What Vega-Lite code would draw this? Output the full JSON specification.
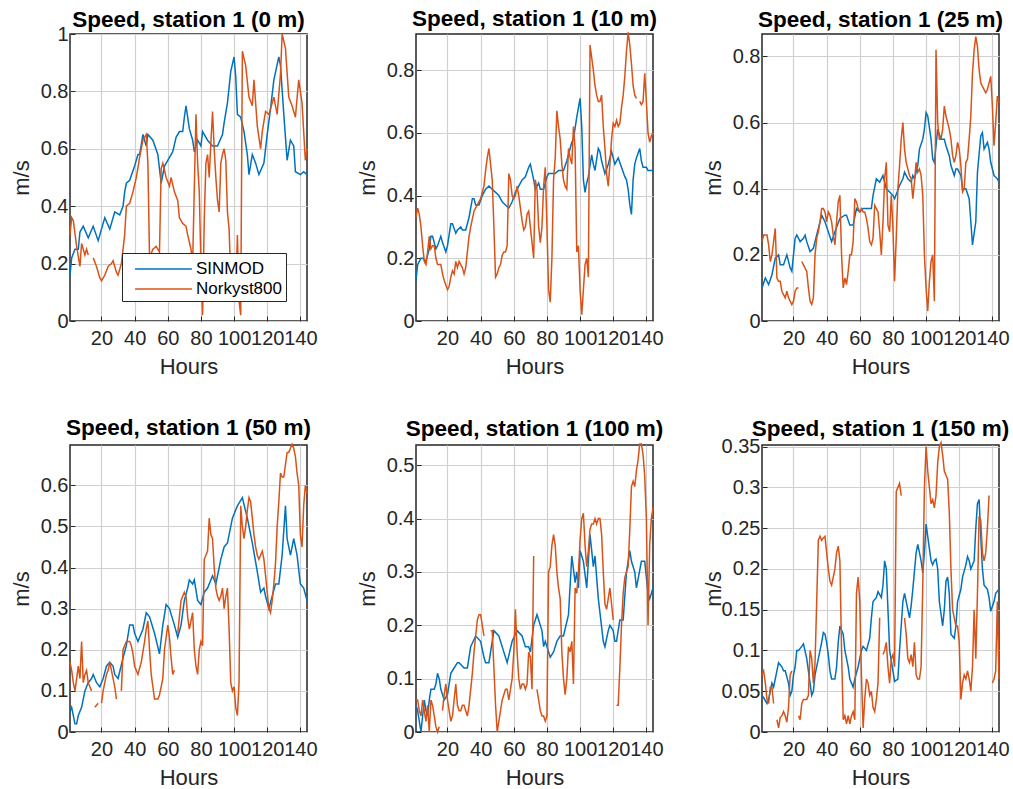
{
"$schema": "https://vega.github.io/schema/vega-lite/v6.json",
"background": "white",
"padding": {"left": 9, "top": 7, "right": 5, "bottom": 5},
"config": {
 "font": "Liberation Sans",
 "view": {"stroke": "#262626", "strokeWidth": 1.5},
 "axis": {"domain": false, "grid": true, "gridColor": "#d0d0d0", "gridWidth": 1.2, "tickColor": "#262626", "tickSize": -5, "tickWidth": 1, "labelFontSize": 20, "labelColor": "#262626", "labelPadding": 12, "titleFontSize": 22, "titleColor": "#262626", "titleFontWeight": "normal", "labelOverlap": false, "labelFlush": false, "labelBound": false},
 "axisX": {"titleY": 45, "titleBaseline": "middle"},
 "axisY": {"titleX": -49, "titleY": 143.5, "titleBaseline": "middle", "titleAngle": -90, "titleAlign": "center", "labelPadding": 7},
 "title": {"fontSize": 22.5, "fontWeight": "bold", "color": "#000000", "baseline": "alphabetic", "frame": "group"},
 "line": {"strokeWidth": 1.5, "clip": true, "invalid": "break-paths-show-domains"}
},
"datasets": {
"p1s": [{"h":1,"v":0.16},{"h":2,"v":0.22},{"h":4,"v":0.25},{"h":6,"v":0.25},{"h":7,"v":0.31},{"h":9,"v":0.33},{"h":12,"v":0.29},{"h":15,"v":0.33},{"h":18,"v":0.28},{"h":20,"v":0.32},{"h":22,"v":0.36},{"h":25,"v":0.32},{"h":28,"v":0.38},{"h":31,"v":0.37},{"h":33,"v":0.40},{"h":34,"v":0.45},{"h":35,"v":0.48},{"h":37,"v":0.49},{"h":40,"v":0.54},{"h":42,"v":0.58},{"h":43,"v":0.58},{"h":45,"v":0.65},{"h":47,"v":0.61},{"h":48,"v":0.65},{"h":51,"v":0.63},{"h":54,"v":0.58},{"h":56,"v":0.48},{"h":58,"v":0.54},{"h":60,"v":0.56},{"h":63,"v":0.59},{"h":65,"v":0.64},{"h":67,"v":0.66},{"h":69,"v":0.66},{"h":70,"v":0.71},{"h":71,"v":0.75},{"h":73,"v":0.67},{"h":75,"v":0.63},{"h":76,"v":0.59},{"h":78,"v":0.63},{"h":80,"v":0.61},{"h":81,"v":0.66},{"h":84,"v":0.63},{"h":87,"v":0.61},{"h":90,"v":0.61},{"h":93,"v":0.65},{"h":94,"v":0.69},{"h":96,"v":0.76},{"h":98,"v":0.87},{"h":100,"v":0.92},{"h":101,"v":0.85},{"h":102,"v":0.72},{"h":104,"v":0.71},{"h":106,"v":0.66},{"h":108,"v":0.58},{"h":109,"v":0.51},{"h":111,"v":0.58},{"h":113,"v":0.55},{"h":115,"v":0.51},{"h":118,"v":0.55},{"h":120,"v":0.65},{"h":122,"v":0.74},{"h":124,"v":0.84},{"h":127,"v":0.92},{"h":128,"v":0.89},{"h":130,"v":0.72},{"h":132,"v":0.56},{"h":134,"v":0.63},{"h":136,"v":0.61},{"h":137,"v":0.52},{"h":140,"v":0.51},{"h":142,"v":0.52},{"h":144,"v":0.51}],
"p1n": [{"h":1,"v":0.30},{"h":2,"v":0.36},{"h":3,"v":0.35},{"h":5,"v":0.26},{"h":7,"v":0.19},{"h":8,"v":0.27},{"h":10,"v":0.23},{"h":11,"v":0.25},{"h":12,"v":0.23},{"h":13,"v":null},{"h":15,"v":0.22},{"h":17,"v":0.19},{"h":19,"v":0.15},{"h":20,"v":0.14},{"h":22,"v":0.16},{"h":24,"v":0.19},{"h":26,"v":0.20},{"h":27,"v":0.21},{"h":29,"v":0.17},{"h":30,"v":0.16},{"h":32,"v":0.20},{"h":34,"v":0.30},{"h":35,"v":0.40},{"h":37,"v":0.41},{"h":39,"v":0.45},{"h":41,"v":0.50},{"h":43,"v":0.57},{"h":45,"v":0.63},{"h":47,"v":0.65},{"h":48,"v":0.55},{"h":49,"v":0.22},{"h":51,"v":0.25},{"h":53,"v":0.26},{"h":55,"v":0.24},{"h":56,"v":0.53},{"h":57,"v":0.55},{"h":59,"v":0.50},{"h":61,"v":0.47},{"h":62,"v":0.50},{"h":64,"v":0.45},{"h":66,"v":0.42},{"h":67,"v":0.36},{"h":69,"v":0.34},{"h":71,"v":0.33},{"h":72,"v":0.30},{"h":74,"v":0.25},{"h":75,"v":0.20},{"h":77,"v":0.72},{"h":78,"v":0.55},{"h":79,"v":0.45},{"h":80,"v":0.20},{"h":81,"v":0.02},{"h":82,"v":0.35},{"h":83,"v":0.55},{"h":84,"v":0.58},{"h":85,"v":0.50},{"h":86,"v":0.62},{"h":87,"v":0.73},{"h":88,"v":0.60},{"h":89,"v":0.50},{"h":90,"v":0.42},{"h":91,"v":0.38},{"h":92,"v":0.55},{"h":93,"v":0.58},{"h":94,"v":0.60},{"h":95,"v":0.56},{"h":96,"v":0.38},{"h":97,"v":0.32},{"h":98,"v":0.15},{"h":99,"v":0.08},{"h":100,"v":0.22},{"h":101,"v":0.10},{"h":102,"v":0.30},{"h":103,"v":0.07},{"h":104,"v":0.02},{"h":105,"v":0.94},{"h":107,"v":0.89},{"h":109,"v":0.78},{"h":111,"v":0.75},{"h":112,"v":0.84},{"h":114,"v":0.68},{"h":116,"v":0.60},{"h":117,"v":0.66},{"h":119,"v":0.73},{"h":121,"v":0.72},{"h":124,"v":0.78},{"h":126,"v":0.72},{"h":128,"v":0.86},{"h":129,"v":1.0},{"h":131,"v":0.95},{"h":133,"v":0.78},{"h":135,"v":0.75},{"h":137,"v":0.71},{"h":139,"v":0.84},{"h":141,"v":0.76},{"h":143,"v":0.56},{"h":144,"v":0.60}],
"p2s": [{"h":1,"v":0.13},{"h":2,"v":0.18},{"h":4,"v":0.20},{"h":5,"v":0.20},{"h":7,"v":0.19},{"h":9,"v":0.23},{"h":10,"v":0.27},{"h":11,"v":0.27},{"h":13,"v":0.23},{"h":14,"v":0.24},{"h":16,"v":0.27},{"h":17,"v":0.25},{"h":19,"v":0.22},{"h":20,"v":0.24},{"h":22,"v":0.31},{"h":23,"v":0.31},{"h":25,"v":0.28},{"h":26,"v":0.29},{"h":28,"v":0.30},{"h":29,"v":0.29},{"h":31,"v":0.29},{"h":33,"v":0.33},{"h":35,"v":0.39},{"h":36,"v":0.39},{"h":37,"v":0.37},{"h":39,"v":0.37},{"h":41,"v":0.40},{"h":43,"v":0.42},{"h":45,"v":0.43},{"h":47,"v":0.42},{"h":49,"v":0.41},{"h":51,"v":0.40},{"h":53,"v":0.38},{"h":55,"v":0.37},{"h":57,"v":0.36},{"h":59,"v":0.38},{"h":61,"v":0.41},{"h":63,"v":0.43},{"h":65,"v":0.45},{"h":67,"v":0.46},{"h":69,"v":0.49},{"h":70,"v":0.50},{"h":72,"v":0.45},{"h":73,"v":0.42},{"h":75,"v":0.44},{"h":76,"v":0.42},{"h":78,"v":0.42},{"h":80,"v":0.46},{"h":81,"v":0.47},{"h":83,"v":0.47},{"h":85,"v":0.47},{"h":87,"v":0.48},{"h":89,"v":0.48},{"h":90,"v":0.48},{"h":92,"v":0.51},{"h":93,"v":0.53},{"h":95,"v":0.57},{"h":96,"v":0.58},{"h":98,"v":0.65},{"h":100,"v":0.71},{"h":101,"v":0.62},{"h":102,"v":0.45},{"h":103,"v":0.41},{"h":104,"v":0.44},{"h":105,"v":0.46},{"h":107,"v":0.53},{"h":108,"v":0.50},{"h":109,"v":0.48},{"h":111,"v":0.55},{"h":112,"v":0.54},{"h":113,"v":0.51},{"h":115,"v":0.47},{"h":117,"v":0.50},{"h":119,"v":0.54},{"h":120,"v":0.52},{"h":121,"v":0.50},{"h":123,"v":0.52},{"h":125,"v":0.49},{"h":127,"v":0.46},{"h":128,"v":0.45},{"h":129,"v":0.42},{"h":130,"v":0.37},{"h":131,"v":0.34},{"h":132,"v":0.45},{"h":133,"v":0.50},{"h":134,"v":0.52},{"h":136,"v":0.55},{"h":137,"v":0.51},{"h":138,"v":0.49},{"h":140,"v":0.49},{"h":141,"v":0.48},{"h":143,"v":0.48},{"h":144,"v":0.48}],
"p2n": [{"h":1,"v":0.33},{"h":2,"v":0.36},{"h":3,"v":0.34},{"h":4,"v":0.30},{"h":5,"v":0.24},{"h":6,"v":0.19},{"h":7,"v":0.18},{"h":8,"v":0.22},{"h":9,"v":0.27},{"h":10,"v":0.23},{"h":11,"v":0.24},{"h":12,"v":0.24},{"h":13,"v":0.20},{"h":14,"v":0.18},{"h":16,"v":0.18},{"h":17,"v":0.15},{"h":18,"v":0.13},{"h":20,"v":0.10},{"h":21,"v":0.11},{"h":22,"v":0.14},{"h":23,"v":0.16},{"h":24,"v":0.15},{"h":25,"v":0.19},{"h":26,"v":0.17},{"h":27,"v":0.19},{"h":28,"v":0.18},{"h":29,"v":0.17},{"h":30,"v":0.15},{"h":31,"v":0.17},{"h":32,"v":0.22},{"h":33,"v":0.27},{"h":34,"v":0.30},{"h":36,"v":0.35},{"h":38,"v":0.37},{"h":40,"v":0.39},{"h":42,"v":0.43},{"h":43,"v":0.48},{"h":44,"v":0.52},{"h":45,"v":0.55},{"h":46,"v":0.50},{"h":47,"v":0.45},{"h":48,"v":0.30},{"h":49,"v":0.14},{"h":50,"v":0.15},{"h":51,"v":0.17},{"h":52,"v":0.18},{"h":53,"v":0.21},{"h":54,"v":0.22},{"h":55,"v":0.22},{"h":56,"v":0.24},{"h":57,"v":0.47},{"h":58,"v":0.45},{"h":59,"v":0.40},{"h":60,"v":0.39},{"h":61,"v":0.40},{"h":62,"v":0.43},{"h":63,"v":0.40},{"h":64,"v":0.36},{"h":65,"v":0.32},{"h":66,"v":0.29},{"h":67,"v":0.30},{"h":68,"v":0.34},{"h":69,"v":0.35},{"h":70,"v":0.30},{"h":71,"v":0.25},{"h":72,"v":0.20},{"h":73,"v":0.45},{"h":74,"v":0.42},{"h":75,"v":0.30},{"h":76,"v":0.25},{"h":77,"v":0.30},{"h":78,"v":0.43},{"h":79,"v":0.49},{"h":80,"v":0.30},{"h":81,"v":0.10},{"h":82,"v":0.06},{"h":83,"v":0.20},{"h":84,"v":0.45},{"h":85,"v":0.52},{"h":86,"v":0.67},{"h":87,"v":0.62},{"h":88,"v":0.58},{"h":89,"v":0.50},{"h":90,"v":0.45},{"h":91,"v":0.43},{"h":92,"v":0.42},{"h":93,"v":0.55},{"h":94,"v":0.52},{"h":95,"v":0.50},{"h":96,"v":0.62},{"h":97,"v":0.55},{"h":98,"v":0.22},{"h":99,"v":0.24},{"h":100,"v":0.10},{"h":101,"v":0.02},{"h":102,"v":0.10},{"h":103,"v":0.18},{"h":104,"v":0.20},{"h":105,"v":0.14},{"h":106,"v":0.88},{"h":107,"v":0.84},{"h":108,"v":0.80},{"h":109,"v":0.75},{"h":110,"v":0.72},{"h":111,"v":0.70},{"h":112,"v":0.70},{"h":113,"v":0.72},{"h":114,"v":0.62},{"h":115,"v":0.55},{"h":116,"v":0.47},{"h":117,"v":0.43},{"h":118,"v":0.50},{"h":119,"v":0.58},{"h":120,"v":0.63},{"h":121,"v":0.62},{"h":122,"v":0.64},{"h":123,"v":0.62},{"h":124,"v":0.63},{"h":125,"v":0.68},{"h":126,"v":0.72},{"h":127,"v":0.78},{"h":128,"v":0.86},{"h":129,"v":0.92},{"h":130,"v":0.88},{"h":131,"v":0.82},{"h":132,"v":0.75},{"h":133,"v":0.72},{"h":134,"v":0.71},{"h":135,"v":null},{"h":136,"v":0.70},{"h":137,"v":0.69},{"h":138,"v":0.70},{"h":139,"v":0.79},{"h":140,"v":0.70},{"h":141,"v":0.60},{"h":142,"v":0.57},{"h":143,"v":0.59},{"h":144,"v":0.60}],
"p3s": [{"h":1,"v":0.10},{"h":3,"v":0.13},{"h":5,"v":0.11},{"h":7,"v":0.14},{"h":9,"v":0.19},{"h":11,"v":0.20},{"h":12,"v":0.17},{"h":14,"v":0.17},{"h":16,"v":0.20},{"h":18,"v":0.16},{"h":19,"v":0.15},{"h":21,"v":0.25},{"h":22,"v":0.26},{"h":24,"v":0.24},{"h":26,"v":0.25},{"h":27,"v":0.26},{"h":28,"v":0.24},{"h":30,"v":0.21},{"h":32,"v":0.22},{"h":34,"v":0.26},{"h":35,"v":0.28},{"h":37,"v":0.32},{"h":39,"v":0.30},{"h":41,"v":0.27},{"h":43,"v":0.24},{"h":45,"v":0.27},{"h":48,"v":0.31},{"h":51,"v":0.32},{"h":52,"v":0.32},{"h":54,"v":0.29},{"h":56,"v":0.29},{"h":58,"v":0.34},{"h":60,"v":0.33},{"h":62,"v":0.34},{"h":65,"v":0.34},{"h":67,"v":0.34},{"h":68,"v":0.38},{"h":70,"v":0.43},{"h":72,"v":0.42},{"h":74,"v":0.44},{"h":76,"v":0.40},{"h":78,"v":0.39},{"h":80,"v":0.38},{"h":81,"v":0.37},{"h":84,"v":0.41},{"h":86,"v":0.43},{"h":87,"v":0.45},{"h":89,"v":0.43},{"h":91,"v":0.42},{"h":92,"v":0.44},{"h":93,"v":0.43},{"h":95,"v":0.47},{"h":96,"v":0.52},{"h":98,"v":0.55},{"h":99,"v":0.58},{"h":100,"v":0.63},{"h":101,"v":0.62},{"h":103,"v":0.55},{"h":104,"v":0.49},{"h":105,"v":0.48},{"h":107,"v":0.58},{"h":109,"v":0.55},{"h":111,"v":0.55},{"h":112,"v":0.53},{"h":114,"v":0.50},{"h":115,"v":0.47},{"h":117,"v":0.44},{"h":118,"v":0.46},{"h":119,"v":0.46},{"h":121,"v":0.44},{"h":122,"v":0.40},{"h":124,"v":0.40},{"h":126,"v":0.37},{"h":127,"v":0.30},{"h":128,"v":0.23},{"h":130,"v":0.30},{"h":131,"v":0.45},{"h":133,"v":0.56},{"h":134,"v":0.57},{"h":135,"v":0.52},{"h":137,"v":0.54},{"h":138,"v":0.52},{"h":139,"v":0.48},{"h":141,"v":0.44},{"h":143,"v":0.43},{"h":144,"v":0.42}],
"p3n": [{"h":1,"v":0.24},{"h":2,"v":0.26},{"h":3,"v":0.26},{"h":4,"v":0.26},{"h":5,"v":0.23},{"h":6,"v":0.18},{"h":7,"v":0.20},{"h":8,"v":0.24},{"h":9,"v":0.28},{"h":10,"v":0.13},{"h":11,"v":0.12},{"h":12,"v":0.12},{"h":13,"v":0.09},{"h":14,"v":0.08},{"h":15,"v":0.07},{"h":16,"v":0.09},{"h":17,"v":0.07},{"h":18,"v":0.06},{"h":19,"v":0.05},{"h":20,"v":0.06},{"h":21,"v":0.09},{"h":22,"v":0.10},{"h":23,"v":0.10},{"h":24,"v":null},{"h":25,"v":0.18},{"h":26,"v":0.17},{"h":27,"v":0.16},{"h":28,"v":0.15},{"h":29,"v":0.10},{"h":30,"v":0.06},{"h":31,"v":0.05},{"h":32,"v":0.07},{"h":33,"v":0.20},{"h":34,"v":0.25},{"h":35,"v":0.27},{"h":36,"v":0.30},{"h":37,"v":0.34},{"h":38,"v":0.34},{"h":39,"v":0.33},{"h":40,"v":0.30},{"h":41,"v":0.33},{"h":42,"v":0.32},{"h":43,"v":0.30},{"h":44,"v":0.26},{"h":45,"v":0.23},{"h":46,"v":0.30},{"h":47,"v":0.36},{"h":48,"v":0.38},{"h":49,"v":0.20},{"h":50,"v":0.10},{"h":51,"v":0.13},{"h":52,"v":0.11},{"h":53,"v":0.15},{"h":54,"v":0.20},{"h":55,"v":0.20},{"h":56,"v":0.24},{"h":57,"v":0.37},{"h":58,"v":0.36},{"h":59,"v":0.34},{"h":60,"v":0.33},{"h":61,"v":0.34},{"h":62,"v":0.33},{"h":63,"v":0.33},{"h":64,"v":0.31},{"h":65,"v":0.28},{"h":66,"v":0.24},{"h":67,"v":0.23},{"h":68,"v":0.25},{"h":69,"v":0.35},{"h":70,"v":0.34},{"h":71,"v":0.33},{"h":72,"v":0.27},{"h":73,"v":0.20},{"h":74,"v":0.30},{"h":75,"v":0.43},{"h":76,"v":0.48},{"h":77,"v":0.29},{"h":78,"v":0.27},{"h":79,"v":0.38},{"h":80,"v":0.28},{"h":81,"v":0.12},{"h":82,"v":0.25},{"h":83,"v":0.40},{"h":84,"v":0.47},{"h":85,"v":0.55},{"h":86,"v":0.60},{"h":87,"v":0.52},{"h":88,"v":0.48},{"h":89,"v":0.46},{"h":90,"v":0.44},{"h":91,"v":0.43},{"h":92,"v":0.37},{"h":93,"v":0.42},{"h":94,"v":0.48},{"h":95,"v":0.45},{"h":96,"v":0.46},{"h":97,"v":0.44},{"h":98,"v":0.38},{"h":99,"v":0.20},{"h":100,"v":0.10},{"h":101,"v":0.03},{"h":102,"v":0.12},{"h":103,"v":0.18},{"h":104,"v":0.20},{"h":105,"v":0.06},{"h":106,"v":0.82},{"h":107,"v":0.60},{"h":108,"v":0.55},{"h":109,"v":0.55},{"h":110,"v":0.58},{"h":111,"v":0.65},{"h":112,"v":0.62},{"h":113,"v":0.60},{"h":114,"v":0.58},{"h":115,"v":0.55},{"h":116,"v":0.50},{"h":117,"v":0.48},{"h":118,"v":0.50},{"h":119,"v":0.54},{"h":120,"v":0.52},{"h":121,"v":0.47},{"h":122,"v":0.39},{"h":123,"v":0.40},{"h":124,"v":0.48},{"h":125,"v":0.49},{"h":126,"v":0.55},{"h":127,"v":0.62},{"h":128,"v":0.75},{"h":129,"v":0.82},{"h":130,"v":0.86},{"h":131,"v":0.83},{"h":132,"v":0.76},{"h":133,"v":0.72},{"h":134,"v":0.71},{"h":135,"v":0.70},{"h":136,"v":0.69},{"h":137,"v":0.70},{"h":138,"v":0.72},{"h":139,"v":0.74},{"h":140,"v":0.65},{"h":141,"v":0.53},{"h":142,"v":0.60},{"h":143,"v":0.68},{"h":144,"v":0.66}],
"p4s": [{"h":1,"v":0.05},{"h":2,"v":0.06},{"h":3,"v":0.04},{"h":4,"v":0.02},{"h":5,"v":0.02},{"h":6,"v":0.04},{"h":8,"v":0.06},{"h":10,"v":0.10},{"h":11,"v":0.11},{"h":12,"v":0.12},{"h":14,"v":0.13},{"h":15,"v":0.14},{"h":17,"v":0.12},{"h":19,"v":0.11},{"h":21,"v":0.13},{"h":23,"v":0.16},{"h":25,"v":0.17},{"h":27,"v":0.16},{"h":28,"v":0.14},{"h":30,"v":0.13},{"h":33,"v":0.18},{"h":35,"v":0.21},{"h":37,"v":0.26},{"h":39,"v":0.26},{"h":40,"v":0.24},{"h":42,"v":0.22},{"h":45,"v":0.25},{"h":47,"v":0.29},{"h":49,"v":0.28},{"h":52,"v":0.24},{"h":55,"v":0.19},{"h":57,"v":0.26},{"h":59,"v":0.31},{"h":61,"v":0.30},{"h":64,"v":0.26},{"h":66,"v":0.23},{"h":68,"v":0.26},{"h":70,"v":0.32},{"h":72,"v":0.35},{"h":73,"v":0.37},{"h":75,"v":0.36},{"h":76,"v":0.37},{"h":78,"v":0.32},{"h":80,"v":0.31},{"h":82,"v":0.34},{"h":84,"v":0.35},{"h":87,"v":0.38},{"h":89,"v":0.36},{"h":91,"v":0.40},{"h":92,"v":0.42},{"h":94,"v":0.45},{"h":96,"v":0.46},{"h":99,"v":0.52},{"h":102,"v":0.55},{"h":105,"v":0.57},{"h":108,"v":0.52},{"h":111,"v":0.46},{"h":114,"v":0.39},{"h":116,"v":0.34},{"h":118,"v":0.35},{"h":119,"v":0.33},{"h":121,"v":0.30},{"h":123,"v":0.33},{"h":125,"v":0.36},{"h":127,"v":0.36},{"h":129,"v":0.43},{"h":131,"v":0.55},{"h":132,"v":0.47},{"h":134,"v":0.43},{"h":136,"v":0.47},{"h":138,"v":0.43},{"h":140,"v":0.36},{"h":142,"v":0.35},{"h":144,"v":0.32}],
"p4n": [{"h":1,"v":0.17},{"h":2,"v":0.15},{"h":3,"v":0.12},{"h":4,"v":0.10},{"h":5,"v":0.13},{"h":6,"v":0.16},{"h":7,"v":0.13},{"h":8,"v":0.22},{"h":9,"v":0.12},{"h":10,"v":0.14},{"h":11,"v":0.15},{"h":12,"v":0.12},{"h":13,"v":0.11},{"h":14,"v":0.10},{"h":15,"v":null},{"h":16,"v":0.06},{"h":17,"v":0.065},{"h":18,"v":0.07},{"h":19,"v":null},{"h":20,"v":0.07},{"h":21,"v":0.10},{"h":22,"v":0.12},{"h":23,"v":0.14},{"h":24,"v":0.15},{"h":25,"v":0.17},{"h":26,"v":0.15},{"h":27,"v":0.13},{"h":28,"v":0.11},{"h":29,"v":0.08},{"h":30,"v":null},{"h":32,"v":0.10},{"h":33,"v":0.20},{"h":35,"v":0.22},{"h":37,"v":0.22},{"h":38,"v":0.21},{"h":39,"v":0.19},{"h":40,"v":0.16},{"h":42,"v":0.14},{"h":44,"v":0.17},{"h":46,"v":0.22},{"h":47,"v":0.25},{"h":48,"v":0.27},{"h":49,"v":0.20},{"h":50,"v":0.14},{"h":52,"v":0.08},{"h":54,"v":0.08},{"h":55,"v":0.09},{"h":57,"v":0.13},{"h":58,"v":0.20},{"h":60,"v":0.26},{"h":61,"v":0.23},{"h":62,"v":0.18},{"h":63,"v":0.14},{"h":64,"v":0.15},{"h":65,"v":null},{"h":66,"v":0.24},{"h":67,"v":0.28},{"h":68,"v":0.32},{"h":70,"v":0.34},{"h":71,"v":0.33},{"h":72,"v":0.28},{"h":73,"v":0.25},{"h":75,"v":0.29},{"h":76,"v":0.20},{"h":77,"v":0.16},{"h":78,"v":0.14},{"h":79,"v":0.20},{"h":80,"v":0.22},{"h":81,"v":0.21},{"h":82,"v":0.42},{"h":83,"v":0.43},{"h":84,"v":0.44},{"h":85,"v":0.52},{"h":86,"v":0.48},{"h":87,"v":0.47},{"h":88,"v":0.40},{"h":89,"v":0.35},{"h":90,"v":0.33},{"h":91,"v":0.32},{"h":92,"v":0.33},{"h":93,"v":0.35},{"h":94,"v":0.30},{"h":95,"v":0.33},{"h":96,"v":0.35},{"h":97,"v":0.25},{"h":98,"v":0.12},{"h":99,"v":0.10},{"h":100,"v":0.11},{"h":101,"v":0.06},{"h":102,"v":0.04},{"h":103,"v":0.12},{"h":104,"v":0.55},{"h":105,"v":0.50},{"h":106,"v":0.47},{"h":107,"v":0.50},{"h":108,"v":0.54},{"h":109,"v":0.57},{"h":110,"v":0.56},{"h":111,"v":0.52},{"h":112,"v":0.48},{"h":113,"v":0.45},{"h":114,"v":0.43},{"h":115,"v":0.42},{"h":117,"v":0.44},{"h":118,"v":0.42},{"h":119,"v":0.38},{"h":120,"v":0.34},{"h":121,"v":0.30},{"h":122,"v":0.29},{"h":123,"v":0.32},{"h":124,"v":0.36},{"h":125,"v":0.41},{"h":126,"v":0.50},{"h":127,"v":0.56},{"h":128,"v":0.63},{"h":129,"v":0.62},{"h":130,"v":0.62},{"h":131,"v":0.65},{"h":132,"v":0.68},{"h":133,"v":0.68},{"h":134,"v":0.69},{"h":135,"v":0.70},{"h":136,"v":0.69},{"h":137,"v":0.67},{"h":138,"v":0.63},{"h":139,"v":0.60},{"h":140,"v":0.48},{"h":141,"v":0.45},{"h":142,"v":0.55},{"h":143,"v":0.60},{"h":144,"v":0.58}],
"p5s": [{"h":1,"v":0.05},{"h":2,"v":0.04},{"h":3,"v":0.02},{"h":4,"v":0.00},{"h":5,"v":0.03},{"h":6,"v":0.06},{"h":7,"v":0.04},{"h":8,"v":0.03},{"h":9,"v":0.06},{"h":10,"v":0.08},{"h":12,"v":0.08},{"h":13,"v":0.09},{"h":14,"v":0.11},{"h":15,"v":0.10},{"h":16,"v":0.08},{"h":18,"v":0.06},{"h":20,"v":0.07},{"h":22,"v":0.11},{"h":24,"v":0.12},{"h":26,"v":0.13},{"h":27,"v":0.13},{"h":30,"v":0.12},{"h":32,"v":0.12},{"h":34,"v":0.16},{"h":37,"v":0.18},{"h":40,"v":0.17},{"h":42,"v":0.14},{"h":43,"v":0.13},{"h":45,"v":0.13},{"h":48,"v":0.19},{"h":51,"v":0.18},{"h":53,"v":0.16},{"h":56,"v":0.13},{"h":59,"v":0.17},{"h":62,"v":0.19},{"h":65,"v":0.18},{"h":67,"v":0.16},{"h":69,"v":0.16},{"h":70,"v":0.15},{"h":72,"v":0.20},{"h":74,"v":0.22},{"h":77,"v":0.19},{"h":78,"v":0.16},{"h":79,"v":0.17},{"h":82,"v":0.14},{"h":84,"v":0.15},{"h":86,"v":0.17},{"h":88,"v":0.18},{"h":90,"v":0.18},{"h":93,"v":0.22},{"h":95,"v":0.33},{"h":97,"v":0.28},{"h":98,"v":0.30},{"h":99,"v":0.27},{"h":100,"v":0.34},{"h":102,"v":0.32},{"h":104,"v":0.27},{"h":105,"v":0.32},{"h":106,"v":0.37},{"h":108,"v":0.31},{"h":109,"v":0.33},{"h":111,"v":0.25},{"h":114,"v":0.17},{"h":115,"v":0.16},{"h":117,"v":0.19},{"h":118,"v":0.20},{"h":120,"v":0.19},{"h":121,"v":0.17},{"h":122,"v":0.17},{"h":124,"v":0.21},{"h":126,"v":0.21},{"h":128,"v":0.30},{"h":130,"v":0.34},{"h":131,"v":0.32},{"h":133,"v":0.30},{"h":134,"v":0.27},{"h":137,"v":0.32},{"h":139,"v":0.32},{"h":141,"v":0.26},{"h":142,"v":0.25},{"h":144,"v":0.27}],
"p5n": [{"h":1,"v":0.06},{"h":2,"v":0.06},{"h":3,"v":0.04},{"h":4,"v":0.03},{"h":5,"v":0.06},{"h":6,"v":0.04},{"h":7,"v":0.02},{"h":8,"v":0.05},{"h":9,"v":0.00},{"h":10,"v":0.06},{"h":11,"v":0.05},{"h":12,"v":0.03},{"h":13,"v":0.01},{"h":14,"v":0.00},{"h":15,"v":0.01},{"h":16,"v":null},{"h":17,"v":0.04},{"h":18,"v":0.07},{"h":19,"v":0.09},{"h":20,"v":0.06},{"h":21,"v":0.04},{"h":22,"v":0.02},{"h":23,"v":0.03},{"h":24,"v":0.06},{"h":25,"v":0.09},{"h":26,"v":0.05},{"h":27,"v":0.04},{"h":28,"v":0.04},{"h":29,"v":0.05},{"h":30,"v":0.05},{"h":31,"v":0.04},{"h":32,"v":0.03},{"h":33,"v":0.05},{"h":34,"v":0.08},{"h":35,"v":0.11},{"h":36,"v":0.15},{"h":37,"v":0.18},{"h":38,"v":0.21},{"h":39,"v":0.22},{"h":40,"v":0.22},{"h":41,"v":0.20},{"h":42,"v":0.18},{"h":43,"v":null},{"h":46,"v":0.19},{"h":47,"v":0.19},{"h":48,"v":0.12},{"h":49,"v":0.05},{"h":50,"v":0.00},{"h":51,"v":0.02},{"h":52,"v":0.04},{"h":53,"v":0.06},{"h":54,"v":0.07},{"h":55,"v":0.08},{"h":56,"v":0.08},{"h":57,"v":0.06},{"h":58,"v":0.08},{"h":59,"v":0.10},{"h":60,"v":0.15},{"h":61,"v":0.23},{"h":62,"v":0.15},{"h":63,"v":0.10},{"h":64,"v":0.08},{"h":65,"v":0.09},{"h":66,"v":0.09},{"h":67,"v":0.08},{"h":68,"v":0.09},{"h":69,"v":0.15},{"h":70,"v":0.14},{"h":71,"v":0.08},{"h":72,"v":0.33},{"h":73,"v":null},{"h":74,"v":0.08},{"h":75,"v":0.06},{"h":76,"v":0.04},{"h":77,"v":0.03},{"h":78,"v":0.03},{"h":79,"v":0.02},{"h":80,"v":0.03},{"h":81,"v":0.30},{"h":82,"v":0.31},{"h":83,"v":0.35},{"h":84,"v":0.37},{"h":85,"v":0.35},{"h":86,"v":0.30},{"h":87,"v":0.27},{"h":88,"v":0.25},{"h":89,"v":0.15},{"h":90,"v":0.10},{"h":91,"v":0.07},{"h":92,"v":0.10},{"h":93,"v":0.16},{"h":94,"v":0.15},{"h":95,"v":0.17},{"h":96,"v":0.09},{"h":97,"v":0.27},{"h":98,"v":0.26},{"h":99,"v":0.30},{"h":100,"v":0.36},{"h":101,"v":0.40},{"h":102,"v":0.41},{"h":103,"v":0.35},{"h":104,"v":0.31},{"h":105,"v":0.34},{"h":106,"v":0.38},{"h":107,"v":0.39},{"h":108,"v":0.39},{"h":109,"v":0.40},{"h":110,"v":0.39},{"h":111,"v":0.40},{"h":112,"v":0.40},{"h":113,"v":0.37},{"h":114,"v":0.30},{"h":115,"v":0.24},{"h":116,"v":0.23},{"h":117,"v":0.25},{"h":118,"v":0.27},{"h":119,"v":0.24},{"h":120,"v":0.21},{"h":121,"v":null},{"h":122,"v":0.05},{"h":123,"v":0.05},{"h":124,"v":0.12},{"h":125,"v":0.20},{"h":126,"v":0.26},{"h":127,"v":0.29},{"h":128,"v":0.30},{"h":129,"v":0.31},{"h":130,"v":0.38},{"h":131,"v":0.46},{"h":132,"v":0.47},{"h":133,"v":0.46},{"h":134,"v":0.49},{"h":135,"v":0.51},{"h":136,"v":0.54},{"h":137,"v":0.54},{"h":138,"v":0.52},{"h":139,"v":0.48},{"h":140,"v":0.40},{"h":141,"v":0.20},{"h":142,"v":0.35},{"h":143,"v":0.40},{"h":144,"v":0.42}],
"p6s": [{"h":1,"v":0.045},{"h":2,"v":0.042},{"h":4,"v":0.035},{"h":5,"v":0.04},{"h":6,"v":0.05},{"h":7,"v":0.06},{"h":8,"v":0.055},{"h":10,"v":0.075},{"h":11,"v":0.085},{"h":13,"v":0.08},{"h":14,"v":0.075},{"h":15,"v":0.075},{"h":17,"v":0.06},{"h":18,"v":0.045},{"h":19,"v":0.05},{"h":20,"v":0.07},{"h":21,"v":0.08},{"h":22,"v":0.10},{"h":23,"v":0.10},{"h":25,"v":0.105},{"h":26,"v":0.108},{"h":28,"v":0.09},{"h":29,"v":0.075},{"h":30,"v":0.06},{"h":31,"v":0.045},{"h":32,"v":0.05},{"h":33,"v":0.07},{"h":35,"v":0.09},{"h":37,"v":0.11},{"h":38,"v":0.122},{"h":39,"v":0.12},{"h":40,"v":0.11},{"h":41,"v":0.095},{"h":42,"v":0.075},{"h":43,"v":0.065},{"h":45,"v":0.065},{"h":46,"v":0.08},{"h":47,"v":0.11},{"h":48,"v":0.13},{"h":50,"v":0.12},{"h":51,"v":0.10},{"h":53,"v":0.08},{"h":54,"v":0.065},{"h":56,"v":0.055},{"h":57,"v":0.065},{"h":59,"v":0.08},{"h":61,"v":0.10},{"h":62,"v":0.105},{"h":64,"v":0.10},{"h":66,"v":0.115},{"h":67,"v":0.14},{"h":68,"v":0.16},{"h":70,"v":0.165},{"h":71,"v":0.172},{"h":73,"v":0.165},{"h":74,"v":0.18},{"h":75,"v":0.21},{"h":76,"v":0.20},{"h":77,"v":0.15},{"h":78,"v":0.10},{"h":80,"v":0.075},{"h":81,"v":0.062},{"h":83,"v":0.065},{"h":84,"v":0.10},{"h":86,"v":0.16},{"h":87,"v":0.17},{"h":89,"v":0.15},{"h":90,"v":0.14},{"h":91,"v":0.155},{"h":92,"v":0.175},{"h":94,"v":0.22},{"h":95,"v":0.23},{"h":97,"v":0.21},{"h":98,"v":0.195},{"h":99,"v":0.22},{"h":100,"v":0.255},{"h":101,"v":0.24},{"h":103,"v":0.21},{"h":104,"v":0.205},{"h":105,"v":0.21},{"h":106,"v":0.212},{"h":107,"v":0.20},{"h":108,"v":0.16},{"h":110,"v":0.13},{"h":111,"v":0.15},{"h":112,"v":0.185},{"h":113,"v":0.19},{"h":114,"v":0.17},{"h":115,"v":0.12},{"h":117,"v":0.115},{"h":118,"v":0.13},{"h":119,"v":0.16},{"h":121,"v":0.175},{"h":122,"v":0.19},{"h":124,"v":0.205},{"h":125,"v":0.215},{"h":126,"v":0.21},{"h":127,"v":0.20},{"h":129,"v":0.21},{"h":130,"v":0.25},{"h":131,"v":0.28},{"h":132,"v":0.285},{"h":133,"v":0.24},{"h":134,"v":0.20},{"h":135,"v":0.18},{"h":137,"v":0.175},{"h":138,"v":0.165},{"h":139,"v":0.148},{"h":141,"v":0.16},{"h":142,"v":0.17},{"h":144,"v":0.175}],
"p6n": [{"h":1,"v":0.07},{"h":2,"v":0.075},{"h":3,"v":0.06},{"h":4,"v":0.04},{"h":5,"v":0.035},{"h":6,"v":0.055},{"h":7,"v":0.055},{"h":8,"v":0.035},{"h":9,"v":null},{"h":10,"v":0.015},{"h":11,"v":0.005},{"h":12,"v":0.018},{"h":13,"v":0.02},{"h":14,"v":0.025},{"h":15,"v":0.02},{"h":16,"v":0.012},{"h":17,"v":0.03},{"h":18,"v":0.07},{"h":19,"v":0.075},{"h":20,"v":null},{"h":23,"v":0.02},{"h":24,"v":0.015},{"h":25,"v":0.035},{"h":26,"v":0.04},{"h":27,"v":0.04},{"h":28,"v":0.04},{"h":29,"v":0.045},{"h":30,"v":0.10},{"h":31,"v":0.09},{"h":32,"v":0.06},{"h":33,"v":0.085},{"h":34,"v":0.16},{"h":35,"v":0.235},{"h":36,"v":0.24},{"h":37,"v":0.235},{"h":38,"v":0.238},{"h":39,"v":0.24},{"h":40,"v":0.22},{"h":41,"v":0.20},{"h":42,"v":0.185},{"h":43,"v":0.18},{"h":44,"v":0.19},{"h":45,"v":0.20},{"h":46,"v":0.22},{"h":47,"v":0.228},{"h":48,"v":0.21},{"h":49,"v":0.10},{"h":50,"v":0.015},{"h":51,"v":0.02},{"h":52,"v":0.01},{"h":53,"v":0.02},{"h":54,"v":0.01},{"h":55,"v":0.02},{"h":56,"v":0.025},{"h":57,"v":0.015},{"h":58,"v":0.17},{"h":59,"v":0.19},{"h":60,"v":0.16},{"h":61,"v":0.07},{"h":62,"v":0.005},{"h":63,"v":0.04},{"h":64,"v":0.065},{"h":65,"v":0.06},{"h":66,"v":0.045},{"h":67,"v":0.05},{"h":68,"v":0.03},{"h":69,"v":0.025},{"h":70,"v":0.04},{"h":71,"v":0.06},{"h":72,"v":0.14},{"h":73,"v":null},{"h":74,"v":0.095},{"h":75,"v":0.10},{"h":76,"v":0.11},{"h":77,"v":0.08},{"h":78,"v":0.06},{"h":79,"v":0.09},{"h":80,"v":0.095},{"h":81,"v":0.08},{"h":82,"v":0.295},{"h":83,"v":0.30},{"h":84,"v":0.305},{"h":85,"v":0.29},{"h":86,"v":null},{"h":87,"v":0.14},{"h":88,"v":0.12},{"h":89,"v":0.09},{"h":90,"v":0.085},{"h":91,"v":0.095},{"h":92,"v":0.08},{"h":93,"v":0.11},{"h":94,"v":0.07},{"h":95,"v":0.065},{"h":96,"v":0.065},{"h":97,"v":0.08},{"h":98,"v":0.18},{"h":99,"v":0.30},{"h":100,"v":0.35},{"h":101,"v":0.32},{"h":102,"v":0.30},{"h":103,"v":0.28},{"h":104,"v":0.285},{"h":105,"v":0.275},{"h":106,"v":0.29},{"h":107,"v":0.33},{"h":108,"v":0.35},{"h":109,"v":0.355},{"h":110,"v":0.34},{"h":111,"v":0.32},{"h":112,"v":0.315},{"h":113,"v":0.31},{"h":114,"v":0.27},{"h":115,"v":0.20},{"h":116,"v":0.15},{"h":117,"v":0.14},{"h":118,"v":0.13},{"h":119,"v":0.13},{"h":120,"v":0.11},{"h":121,"v":0.04},{"h":122,"v":0.06},{"h":123,"v":0.07},{"h":124,"v":0.065},{"h":125,"v":0.075},{"h":126,"v":0.065},{"h":127,"v":0.05},{"h":128,"v":0.08},{"h":129,"v":0.15},{"h":130,"v":0.09},{"h":131,"v":0.17},{"h":132,"v":0.265},{"h":133,"v":0.26},{"h":134,"v":0.22},{"h":135,"v":0.21},{"h":136,"v":0.22},{"h":137,"v":0.25},{"h":138,"v":0.29},{"h":139,"v":null},{"h":140,"v":0.06},{"h":141,"v":0.065},{"h":142,"v":0.075},{"h":143,"v":0.16},{"h":144,"v":0.065}]
},
"columns": 3,
"spacing": {"row": 124, "column": 109},
"bounds": "flush",
"resolve": {"scale": {"x": "independent", "y": "independent", "color": "independent"}, "legend": {"color": "independent"}},
"concat": [
{"width": 237, "height": 287, "title": {"text": "Speed, station 1 (0 m)", "offset": -7},
 "encoding": {"x": {"field": "h", "type": "quantitative", "scale": {"domain": [1, 144], "nice": false, "zero": false}, "axis": {"values": [20, 40, 60, 80, 100, 120, 140], "title": "Hours"}},
  "y": {"field": "v", "type": "quantitative", "scale": {"domain": [0, 1], "nice": false}, "axis": {"values": [0, 0.2, 0.4, 0.6, 0.8, 1], "format": "~g", "title": "m/s"}}},
 "layer": [
  {"data": {"name": "p1s"}, "mark": "line", "encoding": {"color": {"datum": "SINMOD", "type": "nominal", "scale": {"domain": ["SINMOD", "Norkyst800"], "range": ["#0072BD", "#D95319"]}, "legend": {"orient": "none", "legendX": 52, "legendY": 219, "title": null, "symbolType": "M -0.27 0 L 4.9 0", "symbolSize": 484, "symbolStrokeWidth": 1.5, "labelFontSize": 17, "labelColor": "#000000", "labelOffset": 46, "padding": 4, "rowPadding": 0, "strokeColor": "#262626", "fillColor": "white", "direction": "vertical"}}}},
  {"data": {"name": "p1n"}, "mark": "line", "encoding": {"color": {"datum": "Norkyst800", "type": "nominal"}}}
 ]},
{"width": 237, "height": 287, "title": {"text": "Speed, station 1 (10 m)", "offset": -1},
 "encoding": {"x": {"field": "h", "type": "quantitative", "scale": {"domain": [1, 144], "nice": false, "zero": false}, "axis": {"values": [20, 40, 60, 80, 100, 120, 140], "title": "Hours"}},
  "y": {"field": "v", "type": "quantitative", "scale": {"domain": [0, 0.915], "nice": false}, "axis": {"values": [0, 0.2, 0.4, 0.6, 0.8], "format": "~g", "title": "m/s"}}},
 "layer": [
  {"data": {"name": "p2s"}, "mark": "line", "encoding": {"color": {"datum": "SINMOD", "type": "nominal", "scale": {"domain": ["SINMOD", "Norkyst800"], "range": ["#0072BD", "#D95319"]}, "legend": null}}},
  {"data": {"name": "p2n"}, "mark": "line", "encoding": {"color": {"datum": "Norkyst800", "type": "nominal", "legend": null}}}
 ]},
{"width": 237, "height": 287, "title": {"text": "Speed, station 1 (25 m)", "offset": 2},
 "encoding": {"x": {"field": "h", "type": "quantitative", "scale": {"domain": [1, 144], "nice": false, "zero": false}, "axis": {"values": [20, 40, 60, 80, 100, 120, 140], "title": "Hours"}},
  "y": {"field": "v", "type": "quantitative", "scale": {"domain": [0, 0.868], "nice": false}, "axis": {"values": [0, 0.2, 0.4, 0.6, 0.8], "format": "~g", "title": "m/s"}}},
 "layer": [
  {"data": {"name": "p3s"}, "mark": "line", "encoding": {"color": {"datum": "SINMOD", "type": "nominal", "scale": {"domain": ["SINMOD", "Norkyst800"], "range": ["#0072BD", "#D95319"]}, "legend": null}}},
  {"data": {"name": "p3n"}, "mark": "line", "encoding": {"color": {"datum": "Norkyst800", "type": "nominal", "legend": null}}}
 ]},
{"width": 237, "height": 287, "title": {"text": "Speed, station 1 (50 m)", "offset": 1.5},
 "encoding": {"x": {"field": "h", "type": "quantitative", "scale": {"domain": [1, 144], "nice": false, "zero": false}, "axis": {"values": [20, 40, 60, 80, 100, 120, 140], "title": "Hours"}},
  "y": {"field": "v", "type": "quantitative", "scale": {"domain": [0, 0.698], "nice": false}, "axis": {"values": [0, 0.1, 0.2, 0.3, 0.4, 0.5, 0.6], "format": "~g", "title": "m/s"}}},
 "layer": [
  {"data": {"name": "p4s"}, "mark": "line", "encoding": {"color": {"datum": "SINMOD", "type": "nominal", "scale": {"domain": ["SINMOD", "Norkyst800"], "range": ["#0072BD", "#D95319"]}, "legend": null}}},
  {"data": {"name": "p4n"}, "mark": "line", "encoding": {"color": {"datum": "Norkyst800", "type": "nominal", "legend": null}}}
 ]},
{"width": 237, "height": 287, "title": {"text": "Speed, station 1 (100 m)", "offset": 0.5},
 "encoding": {"x": {"field": "h", "type": "quantitative", "scale": {"domain": [1, 144], "nice": false, "zero": false}, "axis": {"values": [20, 40, 60, 80, 100, 120, 140], "title": "Hours"}},
  "y": {"field": "v", "type": "quantitative", "scale": {"domain": [0, 0.538], "nice": false}, "axis": {"values": [0, 0.1, 0.2, 0.3, 0.4, 0.5], "format": "~g", "title": "m/s"}}},
 "layer": [
  {"data": {"name": "p5s"}, "mark": "line", "encoding": {"color": {"datum": "SINMOD", "type": "nominal", "scale": {"domain": ["SINMOD", "Norkyst800"], "range": ["#0072BD", "#D95319"]}, "legend": null}}},
  {"data": {"name": "p5n"}, "mark": "line", "encoding": {"color": {"datum": "Norkyst800", "type": "nominal", "legend": null}}}
 ]},
{"width": 237, "height": 287, "title": {"text": "Speed, station 1 (150 m)", "offset": -3.5},
 "encoding": {"x": {"field": "h", "type": "quantitative", "scale": {"domain": [1, 144], "nice": false, "zero": false}, "axis": {"values": [20, 40, 60, 80, 100, 120, 140], "title": "Hours"}},
  "y": {"field": "v", "type": "quantitative", "scale": {"domain": [0, 0.352], "nice": false}, "axis": {"values": [0, 0.05, 0.1, 0.15, 0.2, 0.25, 0.3, 0.35], "format": "~g", "title": "m/s"}}},
 "layer": [
  {"data": {"name": "p6s"}, "mark": "line", "encoding": {"color": {"datum": "SINMOD", "type": "nominal", "scale": {"domain": ["SINMOD", "Norkyst800"], "range": ["#0072BD", "#D95319"]}, "legend": null}}},
  {"data": {"name": "p6n"}, "mark": "line", "encoding": {"color": {"datum": "Norkyst800", "type": "nominal", "legend": null}}}
 ]}
]
}
